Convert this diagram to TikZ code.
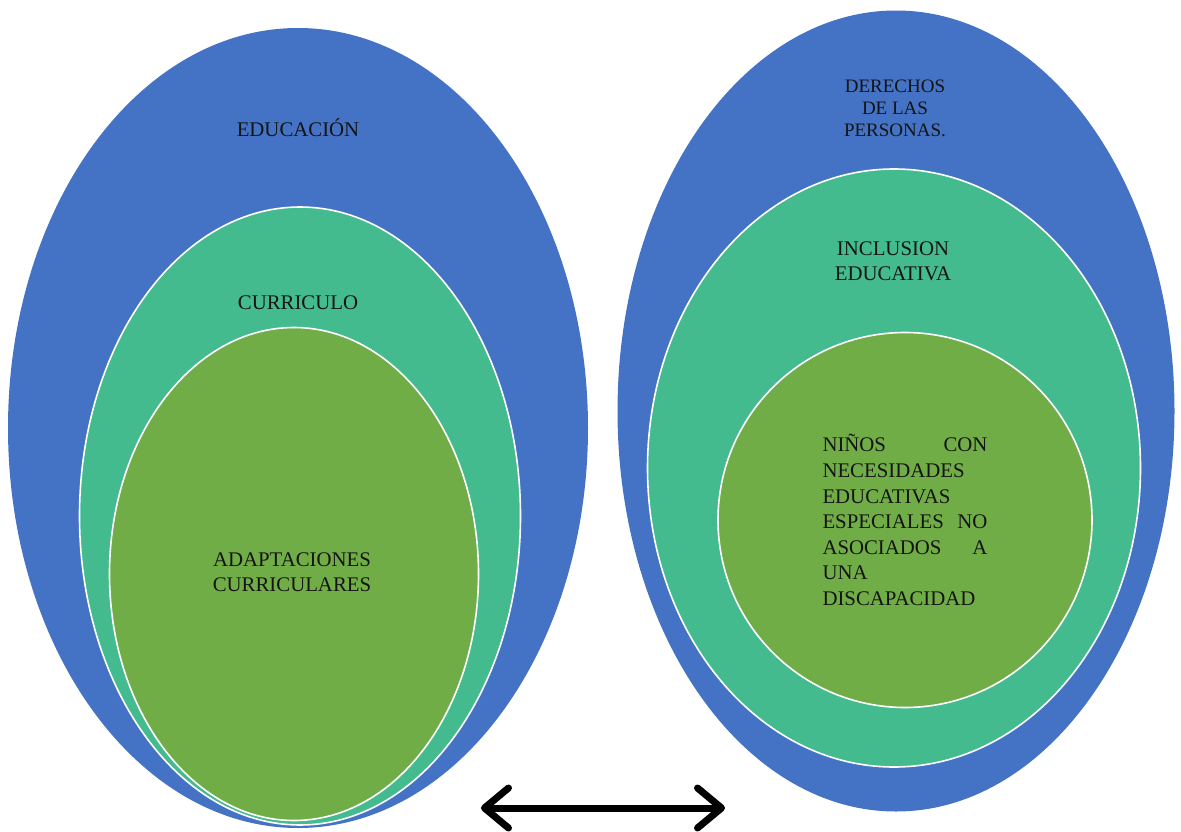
\documentclass[tikz,border=0pt]{standalone}
\usepackage{fontspec}
\setmainfont{Liberation Serif}
\usetikzlibrary{shapes.geometric,arrows.meta}
\definecolor{edublue}{HTML}{4472C4}
\definecolor{curteal}{HTML}{44BB8E}
\definecolor{adgreen}{HTML}{70AD47}
\begin{document}
\begin{tikzpicture}[x=1pt,y=-1pt,
  oval/.style={ellipse,inner sep=0pt,line width=1.6pt},
  lbl/.style={align=center,inner sep=0pt,text=black!92,font=\fontsize{20.8}{25}\selectfont}]
\useasboundingbox (0,0) rectangle (1181,832);

\node[oval,fill=edublue,minimum width=580pt,minimum height=800pt] (edu) at (298,428) {};
\node[oval,fill=curteal,draw=white,minimum width=441pt,minimum height=618pt] (cur) at (300,516) {};
\node[oval,fill=adgreen,draw=white,minimum width=369pt,minimum height=493pt] (adap) at (294,574) {};

\node[oval,fill=edublue,minimum width=557pt,minimum height=801pt] (der) at (896,411) {};
\node[oval,fill=curteal,draw=white,minimum width=493pt,minimum height=598pt] (inc) at (894,468) {};
\node[oval,fill=adgreen,draw=white,minimum width=374pt,minimum height=375pt] (nin) at (905,520) {};

\node[lbl] (edut) at (298,128) {EDUCACIÓN};
\node[lbl] (curt) at (298,303) {CURRICULO};
\node[lbl] (adapt) at (292,572) {ADAPTACIONES\\CURRICULARES};

\node[lbl,font=\fontsize{19}{22}\selectfont] (dert) at (895,108) {DERECHOS\\DE LAS\\PERSONAS.};
\node[lbl] (inct) at (893,261) {INCLUSION\\EDUCATIVA};
\node[lbl,align=left,font=\fontsize{20.8}{25.6}\selectfont] (nint) at (905,520) {\parbox{165pt}{NIÑOS\hfill CON\\
NECESIDADES\\
EDUCATIVAS\\
ESPECIALES\hfill NO\\
ASOCIADOS\hfill A\\
UNA\\
DISCAPACIDAD}};

\coordinate (la) at (481,808);
\coordinate (ra) at (725,808);
\draw[line width=7pt,{Straight Barb[round,length=24pt,width=40pt]}-{Straight Barb[round,length=24pt,width=40pt]}] (la) -- (ra);
\end{tikzpicture}
\end{document}
